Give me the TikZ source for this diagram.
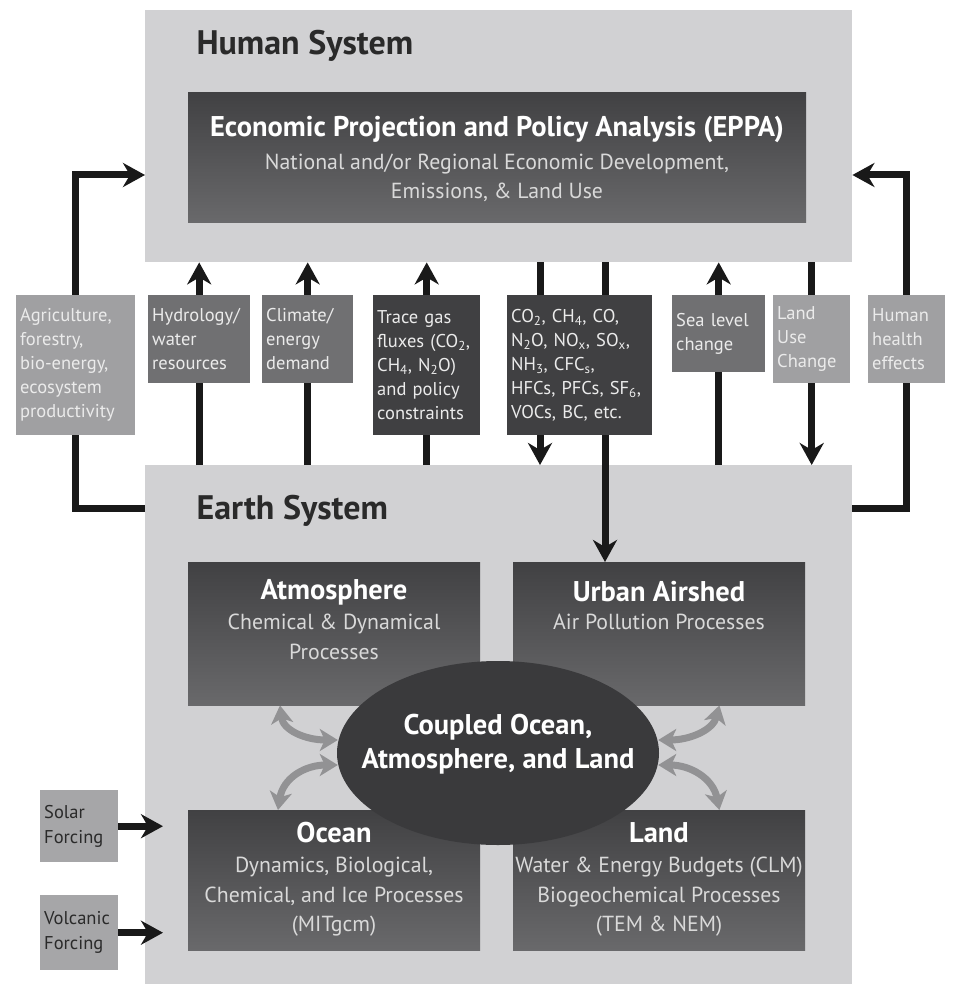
\documentclass[tikz,border=0pt]{standalone}
\usepackage{fontspec}
\setmainfont{PT Sans}
\usetikzlibrary{arrows.meta,shapes.geometric}
\pgfdeclarelayer{back}\pgfdeclarelayer{mid}
\pgfsetlayers{back,mid,main}
\newcommand\myfs[2]{\fontsize{#1}{#2}\selectfont}
\definecolor{panel}{HTML}{D1D1D3}
\definecolor{dkA}{HTML}{414143}
\definecolor{dkB}{HTML}{69696B}
\definecolor{boxdark}{HTML}{404042}
\definecolor{boxmid}{HTML}{707072}
\definecolor{boxlt}{HTML}{A0A0A2}
\definecolor{boxforce}{HTML}{A6A6A8}
\definecolor{ellfill}{HTML}{3A3A3C}
\definecolor{txtlt}{HTML}{EBEBEB}
\definecolor{txtsub}{HTML}{D9D9D9}
\definecolor{titletxt}{HTML}{2A2A2A}
\definecolor{arrgray}{HTML}{929294}
\tikzset{
  panelbox/.style={fill=panel, draw=none, anchor=north west, inner sep=0pt},
  darkbox/.style={anchor=north west, inner sep=0pt, top color=dkA, bottom color=dkB, draw=none},
  tagbox/.style={anchor=north west, inner xsep=4pt, inner ysep=0pt, align=left,
     text=txtlt, font=\myfs{18.5}{24}},
  forcebox/.style={anchor=north west, inner xsep=4pt, inner ysep=0pt, align=left,
     fill=boxforce, text=titletxt, font=\myfs{18.5}{25}},
  bigtitle/.style={anchor=west, text=titletxt, font=\bfseries\myfs{34}{34}},
  boxtitle/.style={text=white, font=\bfseries\myfs{28.5}{30}},
  boxsub/.style={text=txtsub, align=center, font=\myfs{21.8}{29.5}},
  blackarr/.style={draw=black!90, line width=7pt, -{Stealth[length=22pt,width=24pt,inset=7pt]}},
  grayarr/.style={draw=arrgray, line width=7pt,
     arrows={Stealth[length=18pt,width=22pt,inset=5pt]-Stealth[length=18pt,width=22pt,inset=5pt]}},
}
\begin{document}
\begin{tikzpicture}[x=1pt,y=-1pt]
\useasboundingbox (0,0) rectangle (960,984);
\begin{pgfonlayer}{back}
\node[panelbox, minimum width=707pt, minimum height=252pt] (human) at (145,10) {};
\node[panelbox, minimum width=707pt, minimum height=519pt] (earth) at (145,465) {};
\end{pgfonlayer}
% titles
\node[bigtitle] (htitle) at (193,46) {Human System};
\node[bigtitle] (etitle) at (193,511) {Earth System};
% EPPA
\node[darkbox, minimum width=618pt, minimum height=130pt] (eppa) at (188,92) {};
\node[boxtitle] (eppaT) at (497,129) {Economic Projection and Policy Analysis (EPPA)};
\node[boxsub] (eppaS) at (497,178) {National and/or Regional Economic Development,\\Emissions, \& Land Use};
% tag boxes
\node[tagbox, fill=boxlt, minimum width=119pt, minimum height=140pt, text width=111pt] (agri) at (16,295)
  {Agriculture,\\forestry,\\bio-energy,\\ecosystem\\productivity};
\node[tagbox, fill=boxmid, minimum width=102pt, minimum height=88pt, text width=94pt] (hydro) at (148,295)
  {Hydrology/\\water\\resources};
\node[tagbox, fill=boxmid, minimum width=91pt, minimum height=88pt, text width=83pt] (climate) at (262,295)
  {Climate/\\energy\\demand};
\node[tagbox, fill=boxdark, minimum width=107pt, minimum height=140pt, text width=99pt] (trace) at (373,295)
  {Trace gas\\fluxes (CO\textsubscript{2},\\CH\textsubscript{4}, N\textsubscript{2}O)\\and policy\\constraints};
\node[tagbox, fill=boxdark, minimum width=145pt, minimum height=140pt, text width=137pt] (gases) at (507,295)
  {CO\textsubscript{2}, CH\textsubscript{4}, CO,\\N\textsubscript{2}O, NO\textsubscript{x}, SO\textsubscript{x},\\NH\textsubscript{3}, CFC\textsubscript{s},\\HFCs, PFCs, SF\textsubscript{6},\\VOCs, BC, etc.};
\node[tagbox, fill=boxmid, minimum width=93pt, minimum height=77pt, text width=85pt] (sea) at (672,295)
  {Sea level\\change};
\node[tagbox, fill=boxlt, minimum width=77pt, minimum height=88pt, text width=69pt] (landuse) at (773,295)
  {Land\\Use\\Change};
\node[tagbox, fill=boxlt, minimum width=77pt, minimum height=88pt, text width=69pt] (health) at (868,295)
  {Human\\health\\effects};
% forcing boxes
\node[forcebox, minimum width=78pt, minimum height=72pt, text width=70pt] (solar) at (40,790) {Solar\\Forcing};
\node[forcebox, minimum width=78pt, minimum height=75pt, text width=70pt] (volc) at (40,895) {Volcanic\\Forcing};
% earth components
\node[darkbox, minimum width=292pt, minimum height=143pt] (atm) at (188,562) {};
\node[darkbox, minimum width=292pt, minimum height=143pt] (urban) at (513,562) {};
\node[darkbox, minimum width=292pt, minimum height=140pt] (ocean) at (188,810) {};
\node[darkbox, minimum width=292pt, minimum height=140pt] (land) at (513,810) {};
\node[boxtitle] (atmT) at (334,592) {Atmosphere};
\node[boxsub] (atmS) at (334,637) {Chemical \& Dynamical\\Processes};
\node[boxtitle] (urbanT) at (659,592) {Urban Airshed};
\node[boxsub] (urbanS) at (659,622) {Air Pollution Processes};
\node[boxtitle] (oceanT) at (334,833) {Ocean};
\node[boxsub] (oceanS) at (334,897) {Dynamics, Biological,\\Chemical, and Ice Processes\\(MITgcm)};
\node[boxtitle] (landT) at (659,833) {Land};
\node[boxsub] (landS) at (659,897) {Water \& Energy Budgets (CLM)\\Biogeochemical Processes\\(TEM \& NEM)};
% coupled ellipse
\node[ellipse, fill=ellfill, draw=none, minimum width=322pt, minimum height=184pt, inner sep=0pt] (coupled) at (498,753) {};
\node[text=white, align=center, font=\bfseries\myfs{28.5}{34}] (coupledT) at (498,744) {Coupled Ocean,\\Atmosphere, and Land};
% helper coordinates for connectors
\coordinate (gA) at (540,0);
\coordinate (gB) at (605,0);
\begin{pgfonlayer}{mid}
% left and right loops
\draw[blackarr] ([yshift=-43pt]earth.north west) -| (agri.center) |- ([yshift=-165pt]human.north west);
\draw[blackarr] ([yshift=-43pt]earth.north east) -| (health.center) |- ([yshift=-165pt]human.north east);
% upward arrows
\draw[blackarr] (earth.north -| hydro.center) -- (human.south -| hydro.center);
\draw[blackarr] (earth.north -| climate.center) -- (human.south -| climate.center);
\draw[blackarr] (earth.north -| trace.center) -- (human.south -| trace.center);
\draw[blackarr] (earth.north -| sea.center) -- (human.south -| sea.center);
% downward arrows
\draw[blackarr] (human.south -| gA) -- (earth.north -| gA);
\draw[blackarr] (human.south -| gB) -- (urban.north -| gB);
\draw[blackarr] (human.south -| landuse.center) -- (earth.north -| landuse.center);
% forcing
\draw[blackarr] (solar.east) -- ([xshift=-25pt]ocean.west |- solar.east);
\draw[blackarr] (volc.east) -- ([xshift=-25pt]ocean.west |- volc.east);
% gray coupling arrows
\draw[grayarr] ([xshift=92pt]atm.south west) .. controls (283,730) and (305,740) .. ([xshift=1pt,yshift=13pt]coupled.west);
\draw[grayarr] ([xshift=1pt,yshift=-12pt]coupled.west) .. controls (305,765) and (283,778) .. ([xshift=90pt]ocean.north west);
\draw[grayarr] ([xshift=-1pt,yshift=13pt]coupled.east) .. controls (690,740) and (713,730) .. ([xshift=-86pt]urban.south east);
\draw[grayarr] ([xshift=-1pt,yshift=-12pt]coupled.east) .. controls (690,765) and (713,778) .. ([xshift=-86pt]land.north east);
\end{pgfonlayer}
\end{tikzpicture}
\end{document}
